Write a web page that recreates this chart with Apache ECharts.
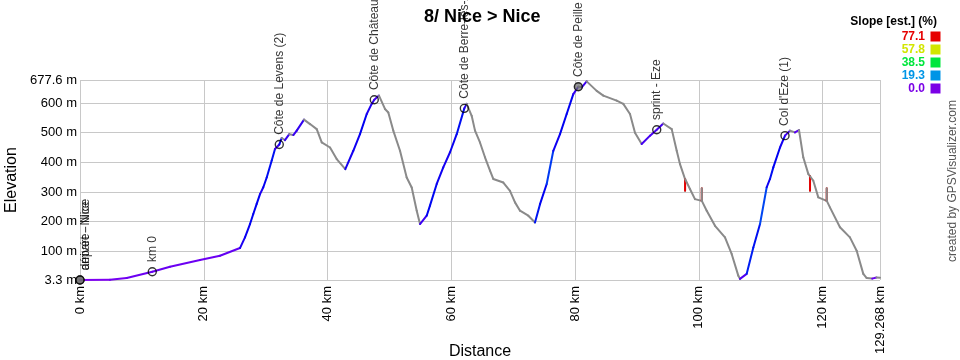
<!DOCTYPE html>
<html><head><meta charset="utf-8">
<script src="https://cdn.jsdelivr.net/npm/echarts@6/dist/echarts.min.js"></script>
<style>html,body{margin:0;padding:0;background:#fff}#c{width:960px;height:360px}</style>
</head><body><div id="c"></div>
<script>
// Elevation profile: [distance km, elevation m]
const profile = [
  [0,3.3],[4.85,4],[7.55,10],[11.68,31],[14.54,48],[19.39,71],[22.62,85],[25.85,111],
  [26.66,147],[27.47,192],[28.0,226],[28.55,260],[29.09,293],[29.62,316],[30.17,349],
  [30.98,406],[31.51,445],[32.2,460],[32.59,482],[33.12,475],[33.82,495],[34.47,492],
  [35.02,507],[36.2,544],[37.17,529],[38.25,512],[39.06,467],[40.4,450],[41.48,411],
  [42.87,377],[44.16,439],[45.24,495],[46.33,563],[47.13,597],[47.55,611],[48.31,625],
  [49.28,580],[49.82,568],[50.62,507],[51.71,439],[52.79,349],[53.6,315],[54.41,237],
  [54.94,192],[56.02,220],[56.55,254],[57.64,327],[58.7,383],[59.79,434],[60.87,495],
  [62.1,582],[62.48,597],[63.29,557],[63.83,507],[64.63,467],[65.44,417],[66.25,372],
  [66.78,344],[68.4,332],[69.48,304],[70.29,265],[71.1,237],[72.44,220],[73.52,197],
  [74.33,259],[75.41,327],[76.48,439],[77.56,495],[78.64,563],[79.71,630],[80.52,655],
  [81.07,653],[81.87,673],[83.49,641],[84.56,625],[86.72,608],[87.79,597],[88.87,563],
  [89.68,500],[90.76,462],[92.11,490],[93.19,510],[94.25,531],[95.61,512],[96.42,439],
  [96.95,394],[97.76,344],[97.77,304],[97.78,344],[98.56,310],[99.37,276],[100.46,270],
  [100.47,313],[100.48,270],[101.27,237],[102.61,186],[104.22,147],[105.3,91],[106.37,18],
  [106.64,7],[107.73,24],[108.8,113],[109.88,192],[110.96,316],[111.49,344],[112.03,383],
  [113.11,450],[113.92,490],[114.72,507],[115.53,501],[116.18,509],[116.87,417],[117.68,361],
  [117.95,353],[117.96,304],[117.97,353],[118.49,338],[119.3,282],[120.65,270],[120.66,313],
  [120.67,270],[121.18,248],[122.8,181],[124.41,147],[125.5,102],[126.57,24],[127.12,10],
  [128.0,8],[128.7,12],[129.268,11]
];
// Waypoints
const wpNames = ['départ - Nice','arrivée - Nice','km 0','Côte de Levens (2)','Côte de Châteauneuf',
  'Côte de Berre-les-Alpes','Côte de Peille','sprint - Eze',"Col d'Eze (1)"];
const wpKm   = [0, 0, 11.68, 32.2, 47.55, 62.1, 80.52, 93.19, 113.92];
const wpElev = [3.3, 3.3, 31, 460, 611, 582, 655, 510, 490];
// Axis ticks
const xTicks = [0,20,40,60,80,100,120,129.268];
const yTicks = [3.3,100,200,300,400,500,600,677.6];
// Slope legend values (%)
const slopeLegend = [77.1,57.8,38.5,19.3,0.0];

const FONT = "'Liberation Sans', Arial, Helvetica, sans-serif";
const legendHues = [0,65,136,201,272];
function hsv(h,s,v){
  h = ((h%360)+360)%360;
  const c=v*s, x=c*(1-Math.abs((h/60)%2-1)), m=v-c;
  let r,g,b;
  if(h<60){r=c;g=x;b=0}else if(h<120){r=x;g=c;b=0}else if(h<180){r=0;g=c;b=x}
  else if(h<240){r=0;g=x;b=c}else if(h<300){r=x;g=0;b=c}else{r=c;g=0;b=x}
  const f=t=>Math.round((t+m)*255).toString(16).padStart(2,'0');
  return '#'+f(r)+f(g)+f(b);
}
function slopeColor(s){
  if (s < 0) return '#8a8a8a';
  const stops = slopeLegend.slice().reverse(); // 0 .. 77.1
  const hues = legendHues.slice().reverse();
  if (s >= stops[stops.length-1]) return hsv(hues[hues.length-1],1,0.9);
  for (let i=0;i<stops.length-1;i++){
    if (s>=stops[i] && s<stops[i+1]){
      let t=(s-stops[i])/(stops[i+1]-stops[i]);
      if (i===0) t = Math.pow(t,0.7);
      return hsv(hues[i]+(hues[i+1]-hues[i])*t,1,i===0?0.95:0.9);
    }
  }
  return hsv(hues[0],1,0.9);
}
const segs = [];
for (let i=0;i<profile.length-1;i++){
  const a=profile[i], b=profile[i+1];
  const dk=b[0]-a[0];
  const slope = dk>0 ? (b[1]-a[1])/(dk*10) : 0;
  segs.push([a[0],a[1],b[0],b[1],slope]);
}
const filledWp = {'départ - Nice':1,'arrivée - Nice':1,'Côte de Peille':1};
const wpData = wpNames.map((n,i)=>({
  name:n, value:[wpKm[i],wpElev[i]],
  itemStyle:{color: filledWp[n] ? 'rgba(110,110,110,0.9)' : 'rgba(0,0,0,0)', borderColor:'#000', borderWidth:1.4},
  label: wpKm[i]===0 ? {offset:[0,6]} : undefined
}));

const legendEls = [{
  type:'text', right: 960-937, top: 16,
  style:{text:'Slope [est.] (%)', font:'bold 12px '+FONT, fill:'#000', textAlign:'right'}
}];
slopeLegend.forEach((v,i)=>{
  const cy = 36.5 + i*13;
  const col = hsv(legendHues[i],1,0.9);
  legendEls.push({type:'text', x:925, y:cy, style:{text:v.toFixed(1), font:'bold 12px '+FONT, fill:col, textAlign:'right', textVerticalAlign:'middle'}});
  legendEls.push({type:'rect', shape:{x:930.5, y:cy-5, width:10, height:10}, style:{fill:col}});
});

const chart = echarts.init(document.getElementById('c'), null, {renderer:'canvas'});
chart.setOption({
  animation:false,
  backgroundColor:'#fff',
  textStyle:{fontFamily:FONT},
  title:{text:'8/ Nice > Nice', left:419, top:3,
    textStyle:{fontSize:18, fontWeight:'bold', color:'#000', fontFamily:FONT}},
  grid:{left:80, right:80, top:80, bottom:80, containLabel:false, outerBoundsMode:'none'},
  xAxis:{type:'value', min:0, max:129.268,
    axisLine:{show:false},
    axisTick:{show:false, customValues:xTicks},
    axisLabel:{customValues:xTicks, rotate:90, margin:6, fontSize:13, color:'#000', fontFamily:FONT,
      formatter:v=>v+' km'},
    splitLine:{show:true, lineStyle:{color:'#c8c8c8', width:1}}
  },
  yAxis:{type:'value', min:3.3, max:677.6,
    name:'Elevation', nameLocation:'middle', nameGap:55,
    nameTextStyle:{fontSize:16, color:'#000', fontFamily:FONT},
    axisLine:{show:false},
    axisTick:{show:false, customValues:yTicks},
    axisLabel:{customValues:yTicks, margin:3, fontSize:13, color:'#000', fontFamily:FONT,
      formatter:v=>v+' m'},
    splitLine:{show:true, lineStyle:{color:'#c8c8c8', width:1}}
  },
  graphic:[
    {type:'text', x:480, y:352,
      style:{text:'Distance', font:'16px '+FONT, fill:'#000', textAlign:'center', textVerticalAlign:'middle'}},
    {type:'text', x:953, y:181, rotation:Math.PI/2,
      style:{text:'created by GPSVisualizer.com', font:'12px '+FONT, fill:'#555', textAlign:'center', textVerticalAlign:'middle'}},
    ...legendEls
  ],
  series:[
    {type:'custom', data:segs, encode:{x:[0,2], y:[1,3]}, clip:false,
      renderItem:function(params, api){
        const p0=api.coord([api.value(0),api.value(1)]);
        const p1=api.coord([api.value(2),api.value(3)]);
        return {type:'line', shape:{x1:p0[0],y1:p0[1],x2:p1[0],y2:p1[1]},
          style:{stroke:slopeColor(api.value(4)), lineWidth:2, lineCap:'round'}};
      }
    },
    {type:'scatter', data:wpData, symbol:'circle', symbolSize:8, clip:false, z:5,
      label:{show:true, position:'top', distance:5, rotate:90, align:'left', verticalAlign:'middle',
        formatter:p=>p.name, fontSize:12, color:'#000', fontFamily:FONT}
    }
  ]
});
</script></body></html>
